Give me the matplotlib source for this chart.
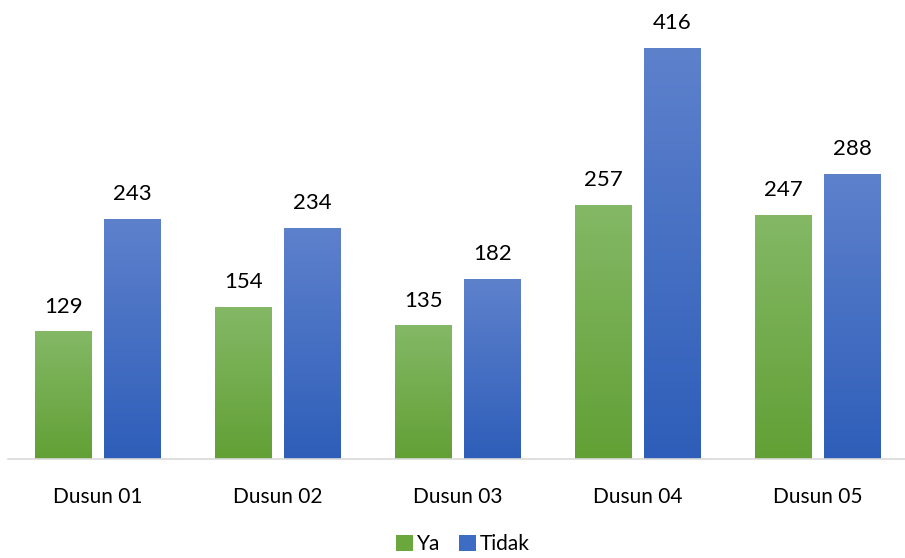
import numpy as np
import matplotlib.pyplot as plt
from matplotlib.colors import LinearSegmentedColormap
from matplotlib.patches import Patch

categories = ['Dusun 01', 'Dusun 02', 'Dusun 03', 'Dusun 04', 'Dusun 05']
ya = [129, 154, 135, 257, 247]
tidak = [243, 234, 182, 416, 288]

plt.rcParams['font.family'] = ['Lato', 'DejaVu Sans']

green_cmap = LinearSegmentedColormap.from_list('g', ['#62a035', '#84b866'])
blue_cmap = LinearSegmentedColormap.from_list('b', ['#2e5eb9', '#5e81cc'])

fig = plt.figure(figsize=(9.05, 5.58), dpi=100)
ax = fig.add_axes([8 / 905, 99 / 558, 900 / 905, 449 / 558])

x = np.arange(len(categories))
w = 0.315
off = 0.19
grad = np.linspace(0, 1, 256).reshape(-1, 1)


def gradient_bars(xs, vals, cmap):
    bars = ax.bar(xs, vals, w, color='none', edgecolor='none')
    for b, v in zip(bars, vals):
        im = ax.imshow(grad, cmap=cmap, aspect='auto', origin='lower',
                       extent=[b.get_x(), b.get_x() + w, 0, v], zorder=2)
        im.set_clip_path(b)
        ax.text(b.get_x() + w / 2, v + 15, str(v), ha='center', va='bottom',
                fontsize=16, color='#000000')
    return bars


gradient_bars(x - off, ya, green_cmap)
gradient_bars(x + off, tidak, blue_cmap)

ax.set_xlim(-0.5, 4.5)
ax.set_ylim(0, 454)
ax.set_yticks([])
ax.set_xticks(x)
ax.set_xticklabels(categories, fontsize=15)
ax.tick_params(axis='x', length=0, pad=20)
for s in ['top', 'right', 'left']:
    ax.spines[s].set_visible(False)
ax.spines['bottom'].set_color('#d9d9d9')
ax.spines['bottom'].set_linewidth(1.2)

handles = [Patch(facecolor='#6aa83e', label='Ya'), Patch(facecolor='#3d6cc4', label='Tidak')]
fig.legend(handles=handles, loc='center', bbox_to_anchor=(463 / 905, 1 - 544 / 558),
           ncol=2, frameon=False, fontsize=15, handlelength=0.8, handleheight=0.8,
           handletextpad=0.2, columnspacing=0.9)

fig.savefig('out.png', dpi=100)
